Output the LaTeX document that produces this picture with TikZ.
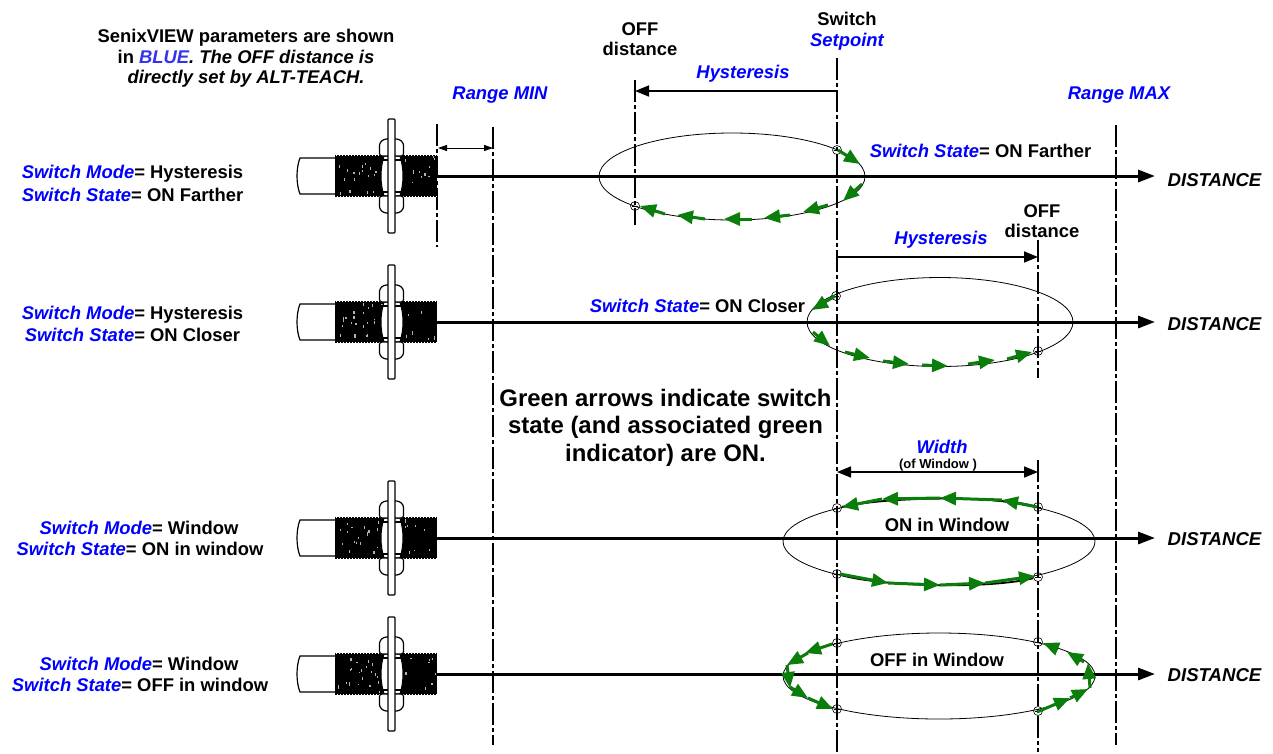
\documentclass[tikz,border=0pt]{standalone}
\usepackage{fontspec}
\setmainfont{Liberation Sans}
\usetikzlibrary{arrows.meta,calc}
\definecolor{arrowgreen}{RGB}{10,125,10}
\definecolor{paramblue}{RGB}{0,0,255}
\definecolor{lightblue}{RGB}{50,50,240}
\newcommand{\pb}[1]{{\color{paramblue}\itshape #1}}
\newcount\gcnt
\tikzset{
  x=1pt,y=-1pt,
  txt/.style={inner sep=0pt,font=\bfseries\fontsize{18.4}{20.6}\selectfont,align=center,text=black},
  distlabel/.style={txt,font=\bfseries\itshape\fontsize{18.6}{20}\selectfont},
  axis/.style={line width=3pt,-{Triangle[length=17pt,width=12pt]},shorten >=-1pt},
  guide/.style={line width=1.4pt,dash pattern=on 22pt off 3pt on 4pt off 3pt},
  dimline/.style={line width=1.6pt,{Triangle[length=14pt,width=11pt]}-{Triangle[length=14pt,width=11pt]}},
  dimsingle/.style={line width=1.6pt,-{Triangle[length=14pt,width=11pt]}},
  dimthin/.style={line width=0.8pt,{Triangle[length=9pt,width=6pt]}-{Triangle[length=9pt,width=6pt]}},
  loope/.style={line width=0.8pt},
  mark circle/.style={draw,circle,minimum size=9pt,inner sep=0pt,line width=0.6pt},
  garrow/.style={draw=arrowgreen,line width=3pt,-{Triangle[length=16pt,width=13pt,fill=arrowgreen]},arrowgreen},
  gblack/.style={line width=1.8pt},
}
% green arrow between two automatically named coordinates
\newcommand{\gar}[2]{\global\advance\gcnt by 1
  \coordinate (ga\the\gcnt) at (#1);\coordinate (gb\the\gcnt) at (#2);
  \draw[garrow] (ga\the\gcnt) -- (gb\the\gcnt);}
% sensor body at vertical centre #1
\newcommand{\sensor}[1]{\begin{scope}[yshift=-#1pt]
  \draw[line width=1.2pt,fill=white] (336,-18) -- (300,-18) .. controls (296,-8) and (296,8) .. (300,18) -- (336,18);
  \fill[black] (335,-21) rectangle (437,21);
  \pgfmathsetseed{#1}
  \foreach \i in {1,...,36}{
    \pgfmathsetmacro{\xx}{337+98*rnd}\pgfmathsetmacro{\yy}{-20+37*rnd}
    \fill[white!70!black] (\xx,\yy) rectangle ++(0.7+0.9*rnd,1.2+2.4*rnd);}
  \foreach \xx in {336,339,...,435}{
    \fill[white] (\xx,-21.2) rectangle ++(1,1);
    \fill[white] (\xx+1,20.2) rectangle ++(1,1);}
  \draw[line width=1.1pt,fill=white] (384,-20) .. controls (380,-8) and (380,8) .. (384,20) -- (400,20) .. controls (404,8) and (404,-8) .. (400,-20) -- cycle;
  \draw[line width=1.2pt,fill=white,rounded corners=2.5pt] (379.5,-20) -- (379.5,-33) -- (384,-37) -- (399,-37) -- (403.5,-33) -- (403.5,-20) -- cycle;
  \draw[line width=1.2pt,fill=white,rounded corners=2.5pt] (379.5,20) -- (379.5,33) -- (384,37) -- (399,37) -- (403.5,33) -- (403.5,20) -- cycle;
  \draw[line width=1.1pt] (381,-16) -- (402,-16) (381,16) -- (402,16);
  \draw[line width=1.2pt,fill=white,rounded corners=1pt] (388,-57) rectangle (395,57);
\end{scope}}
\begin{document}
\begin{tikzpicture}
\useasboundingbox (0,0) rectangle (1273,753);
% guide coordinates
\coordinate (g437a) at (437,124); \coordinate (g437b) at (437,247);
\coordinate (g493a) at (493,127); \coordinate (g493b) at (493,745);
\coordinate (g635a) at (635,80);  \coordinate (g635b) at (635,225);
\coordinate (g837a) at (837,58);  \coordinate (g837b) at (837,752);
\coordinate (g1038a) at (1038,240); \coordinate (g1038b) at (1038,378);
\coordinate (g1038c) at (1038,460); \coordinate (g1038d) at (1038,752);
\coordinate (g1116a) at (1116,125); \coordinate (g1116b) at (1116,745);
% axes
\foreach \n/\y in {a/176,b/322,c/538,d/674}{
  \coordinate (ax\n s) at (437,\y); \coordinate (ax\n e) at (1154,\y);
  \draw[axis] (ax\n s) -- (ax\n e);}
% guides
\draw[guide] (g437a) -- (g437b);
\draw[guide] (g493a) -- (g493b);
\draw[guide] (g635a) -- (g635b);
\draw[guide] (g837a) -- (g837b);
\draw[guide] (g1038a) -- (g1038b);
\draw[guide] (g1038c) -- (g1038d);
\draw[guide,line width=1.2pt] (g1116a) -- (g1116b);
% sensors
\sensor{176}\sensor{322}\sensor{538}\sensor{674}
% loops
\draw[loope] (732,176.5) ellipse [x radius=133,y radius=43.5];
\draw[loope] (940,322) ellipse [x radius=133,y radius=44.5];
\draw[loope] (939,541.5) ellipse [x radius=156,y radius=43.5];
\draw[loope] (939,676) ellipse [x radius=156,y radius=43];
% switch points
\foreach \n/\x/\y in {p1/837/150,p2/635/206,p3/836/296,p4/1038/351,p5/837/508,p6/1038/507,p7/837/574,p8/1038/577,p9/837/643,p10/1038/642,p11/837/709,p12/1038/711}{
  \node[mark circle] (\n) at (\x,\y) {};
  \draw[line width=0.6pt] (\x-3,\y) -- (\x+3,\y);}
% thick arcs of window mode
\draw[gblack] (p5) .. controls (885,497) and (990,495) .. (p6);
\draw[gblack] (p7) .. controls (885,587) and (990,589) .. (p8);
% green arrows, row 1
\gar{838,150}{860,164}\gar{862,184}{843,201}\gar{828,205}{803,212}\gar{790,215}{764,218}
\gar{752,219}{724,219}\gar{705,219}{677,215}\gar{665,214}{640,206}
% row 2
\gar{835,296}{812,310}\gar{813,332}{830,346}\gar{845,352}{870,358}\gar{883,361}{909,364}
\gar{922,365}{948,366}\gar{968,364}{995,360}\gar{1007,359}{1032,352}
% row 3
\gar{1037,507}{1002,500}\gar{1002,500}{940,498}\gar{940,498}{882,499}\gar{882,499}{842,507}
\gar{840,574}{888,583}\gar{888,583}{940,585}\gar{940,585}{985,583}\gar{985,583}{1035,576}
% row 4
\gar{832,644}{805,653}\gar{808,653}{787,665}\gar{787,665}{790,688}\gar{790,687}{808,698}\gar{808,698}{833,709}
\gar{1058,649}{1043,643}\gar{1084,662}{1067,652}\gar{1090,688}{1088,663}
\gar{1037,712}{1070,698}\gar{1070,698}{1088,689}
% dimensions
\coordinate (r1) at (438,148); \coordinate (r2) at (493,148);
\draw[dimthin] (r1) -- (r2);
\coordinate (h1a) at (837,91); \coordinate (h1b) at (635,91);
\draw[dimsingle] (h1a) -- (h1b);
\coordinate (h2a) at (837,257); \coordinate (h2b) at (1038,257);
\draw[dimsingle] (h2a) -- (h2b);
\coordinate (w1) at (837,472); \coordinate (w2) at (1038,472);
\draw[dimline] (w1) -- (w2);
% text
\node[txt] (note) at (246,58.5) {SenixVIEW parameters are shown\\ in {\itshape\color{lightblue}BLUE}{\itshape. The OFF distance is}\\ \itshape directly set by ALT-TEACH.};
\node[txt] (m1) at (132.5,174) {\pb{Switch Mode}= Hysteresis};
\node[txt] (s1) at (132.5,195) {\pb{Switch State}= ON Farther};
\node[txt] (m2) at (132.5,314.5) {\pb{Switch Mode}= Hysteresis};
\node[txt] (s2) at (132.5,335) {\pb{Switch State}= ON Closer};
\node[txt] (m3) at (139,528) {\pb{Switch Mode}= Window};
\node[txt] (s3) at (140,549) {\pb{Switch State}= ON in window};
\node[txt] (m4) at (139,664) {\pb{Switch Mode}= Window};
\node[txt] (s4) at (140,685) {\pb{Switch State}= OFF in window};
\node[txt] (rmin) at (500,95.5) {\pb{Range MIN}};
\node[txt] (rmax) at (1119,95.5) {\pb{Range MAX}};
\node[txt] (off1) at (640,39) {OFF\\distance};
\node[txt] (sw) at (847,31) {Switch\\\pb{Setpoint}};
\node[txt] (hy1) at (743,73.5) {\pb{Hysteresis}};
\node[txt] (st1) at (980.5,151) {\pb{Switch State}= ON Farther};
\node[txt] (off2) at (1042,221) {OFF\\distance};
\node[txt] (hy2) at (941,239.5) {\pb{Hysteresis}};
\node[txt] (st2) at (697.5,306) {\pb{Switch State}= ON Closer};
\node[txt,font=\bfseries\fontsize{23.9}{27.5}\selectfont] (green) at (665.5,427.5) {Green arrows indicate switch\\state (and associated green\\indicator) are ON.};
\node[txt] (wd) at (942,447) {\pb{Width}};
\node[txt,font=\bfseries\fontsize{13}{14}\selectfont] (ofw) at (938,465) {(of Window )};
\node[txt] (onw) at (947,525) {ON in Window};
\node[txt] (ofwin) at (937,660) {OFF in Window};
\foreach \n/\y in {a/180,b/324,c/539,d/675}{
  \node[distlabel] (dl\n) at (1214.5,\y) {DISTANCE};}
\end{tikzpicture}
\end{document}
